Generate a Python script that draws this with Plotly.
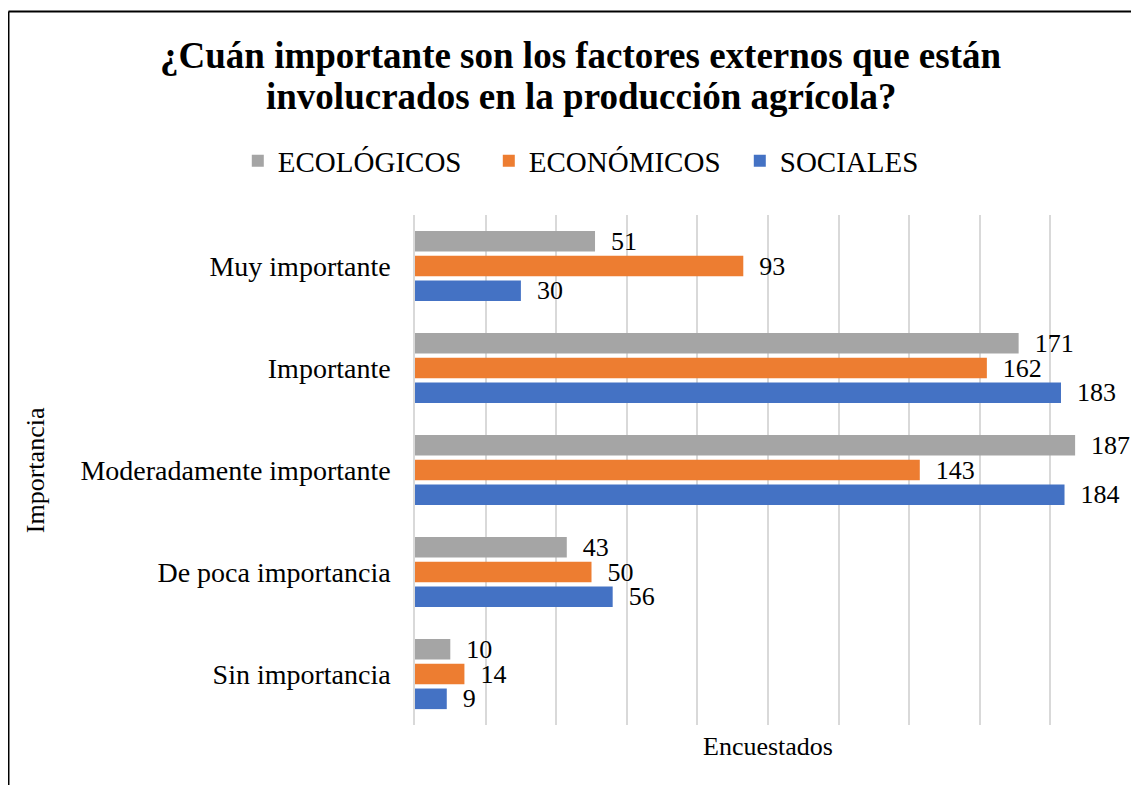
import plotly.graph_objects as go

categorias = ["Muy importante", "Importante", "Moderadamente importante",
              "De poca importancia", "Sin importancia"]
ecologicos = [51, 171, 187, 43, 10]
economicos = [93, 162, 143, 50, 14]
sociales = [30, 183, 184, 56, 9]

series = [("ECOLÓGICOS", ecologicos, "#A5A5A5"),
          ("ECONÓMICOS", economicos, "#ED7D31"),
          ("SOCIALES", sociales, "#4472C4")]

FONT = "Liberation Serif, Times New Roman, serif"

fig = go.Figure()
for nombre, valores, color in series:
    fig.add_trace(go.Bar(
        y=categorias, x=valores, name=nombre, orientation="h",
        marker=dict(color=color, line=dict(width=0)),
        text=valores, texttemplate="  %{x}", textposition="outside",
        textfont=dict(size=26, color="black", family=FONT),
        constraintext="none", cliponaxis=False,
    ))

# la pagina tiene 8px de margen, por eso 1131x777
fig.update_layout(
    width=1131, height=777,
    margin=dict(l=407, r=18, t=207, b=60),
    paper_bgcolor="white", plot_bgcolor="white",
    font=dict(family=FONT, color="black"),
    barmode="group", bargap=0.27, bargroupgap=0.17,
    legend=dict(orientation="h", x=-0.251, xanchor="left", y=1.106, yanchor="middle",
                font=dict(size=29, family=FONT), traceorder="normal",
                itemwidth=30, entrywidth=206, entrywidthmode="pixels",
                bgcolor="rgba(0,0,0,0)"),
    showlegend=True,
)

fig.update_xaxes(range=[0, 200], dtick=20, showgrid=True, gridcolor="#D9D9D9", gridwidth=1.5,
                 zeroline=False, showticklabels=False, showline=False)
fig.update_yaxes(autorange="reversed", showgrid=False, showline=True, linecolor="#D9D9D9", linewidth=1.5,
                 ticks="", ticklabelstandoff=17, tickfont=dict(size=28, family=FONT))

# titulo en dos lineas (interlineado mas corto que el de plotly)
titulo = ["¿Cuán importante son los factores externos que están",
          "involucrados en la producción agrícola?"]
for linea, yy in zip(titulo, [1.312, 1.233]):
    fig.add_annotation(text="<b>" + linea + "</b>", xref="paper", yref="paper",
                       x=0.235, y=yy, xanchor="center", yanchor="middle", showarrow=False,
                       font=dict(size=37, family=FONT, color="black"))

fig.add_annotation(text="Importancia", xref="paper", yref="paper", x=-0.538, y=0.5,
                   textangle=-90, xanchor="center", yanchor="middle", showarrow=False,
                   font=dict(size=26, family=FONT, color="black"))
fig.add_annotation(text="Encuestados", xref="paper", yref="paper", x=0.5, y=-0.043,
                   xanchor="center", yanchor="middle", showarrow=False,
                   font=dict(size=26, family=FONT, color="black"))

# marco del grafico: solo se ven el borde izquierdo y el superior
fig.add_shape(type="line", xref="paper", yref="paper", x0=-0.5758, x1=-0.5758, y0=-0.2, y1=1.399,
              line=dict(color="black", width=2))
fig.add_shape(type="line", xref="paper", yref="paper", x0=-0.5758, x1=1.1, y0=1.399, y1=1.399,
              line=dict(color="black", width=2))

fig.write_html("out.html")
